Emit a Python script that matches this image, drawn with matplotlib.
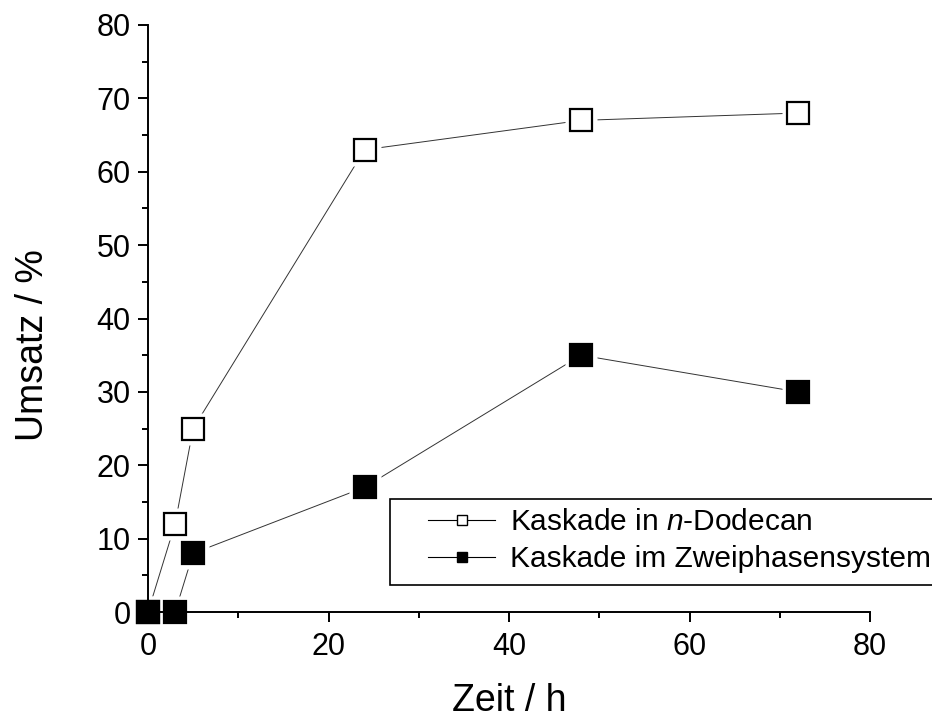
import matplotlib.pyplot as plt
from matplotlib.lines import Line2D
from matplotlib.patches import Rectangle
from matplotlib.ticker import MultipleLocator

# data
zeit = [0, 3, 5, 24, 48, 72]
umsatz_dodecan = [0, 12, 25, 63, 67, 68]
umsatz_zweiphasen = [0, 0, 8, 17, 35, 30]
label_dodecan = 'Kaskade in $\\mathit{n}$-Dodecan'
label_zweiphasen = 'Kaskade im Zweiphasensystem'

plt.rcParams['font.family'] = ['Liberation Sans', 'DejaVu Sans']
plt.rcParams['mathtext.fontset'] = 'custom'
plt.rcParams['mathtext.it'] = 'Liberation Sans:italic'
plt.rcParams['mathtext.rm'] = 'Liberation Sans'

W, H = 932, 720
fig = plt.figure(figsize=(W / 100, H / 100), dpi=100)
ax = fig.add_axes([148 / W, 108 / H, 722 / W, 587 / H])

ms = 15.8
# thin connecting lines
ax.plot(zeit, umsatz_dodecan, color='#333333', lw=0.7, zorder=2)
ax.plot(zeit, umsatz_zweiphasen, color='#333333', lw=0.7, zorder=2)
# white masks give the small gap between line and marker
for ys in (umsatz_dodecan, umsatz_zweiphasen):
    ax.plot(zeit, ys, ls='none', marker='s', ms=ms + 7, mfc='white', mec='none',
            zorder=2.2, clip_on=False)
ax.plot(zeit, umsatz_dodecan, ls='none', marker='s', ms=ms, mfc='white', mec='black',
        mew=1.6, zorder=3, clip_on=False)
ax.plot(zeit, umsatz_zweiphasen, ls='none', marker='s', ms=ms, mfc='black', mec='black',
        mew=1.6, zorder=3.1, clip_on=False)

ax.set_xlim(0, 80)
ax.set_ylim(0, 80)
ax.spines['top'].set_visible(False)
ax.spines['right'].set_visible(False)
for s in ('left', 'bottom'):
    ax.spines[s].set_linewidth(1.4)
ax.xaxis.set_major_locator(MultipleLocator(20))
ax.xaxis.set_minor_locator(MultipleLocator(10))
ax.yaxis.set_major_locator(MultipleLocator(10))
ax.yaxis.set_minor_locator(MultipleLocator(5))
ax.tick_params(which='major', direction='out', length=7.5, width=1.4, labelsize=22)
ax.tick_params(which='minor', direction='out', length=4.5, width=1.4)
ax.tick_params(axis='y', pad=5)
ax.tick_params(axis='x', pad=7)

ax.set_xlabel('Zeit / h', fontsize=27, labelpad=15)
ax.set_ylabel('Umsatz / %', fontsize=27, labelpad=33, y=0.454)

# legend frame running off the right edge, as in the reference
fig.patches.append(Rectangle((390 / W, 1 - 585 / H), 560 / W, 86 / H,
                             transform=fig.transFigure, facecolor='white',
                             edgecolor='black', lw=1.2, zorder=5))
handles = [
    Line2D([], [], color='black', lw=0.8, marker='s', ms=7, mfc='white', mec='black', mew=1),
    Line2D([], [], color='black', lw=0.8, marker='s', ms=7, mfc='black', mec='black', mew=1),
]
leg = fig.legend(handles, [label_dodecan, label_zweiphasen], loc='upper left',
                 bbox_to_anchor=(428 / W, 1 - 508 / H), fontsize=21.5,
                 frameon=False, handlelength=2.25, handletextpad=0.5,
                 borderpad=0, labelspacing=0.3, borderaxespad=0)
leg.set_zorder(6)

fig.savefig('out.png', dpi=100)
